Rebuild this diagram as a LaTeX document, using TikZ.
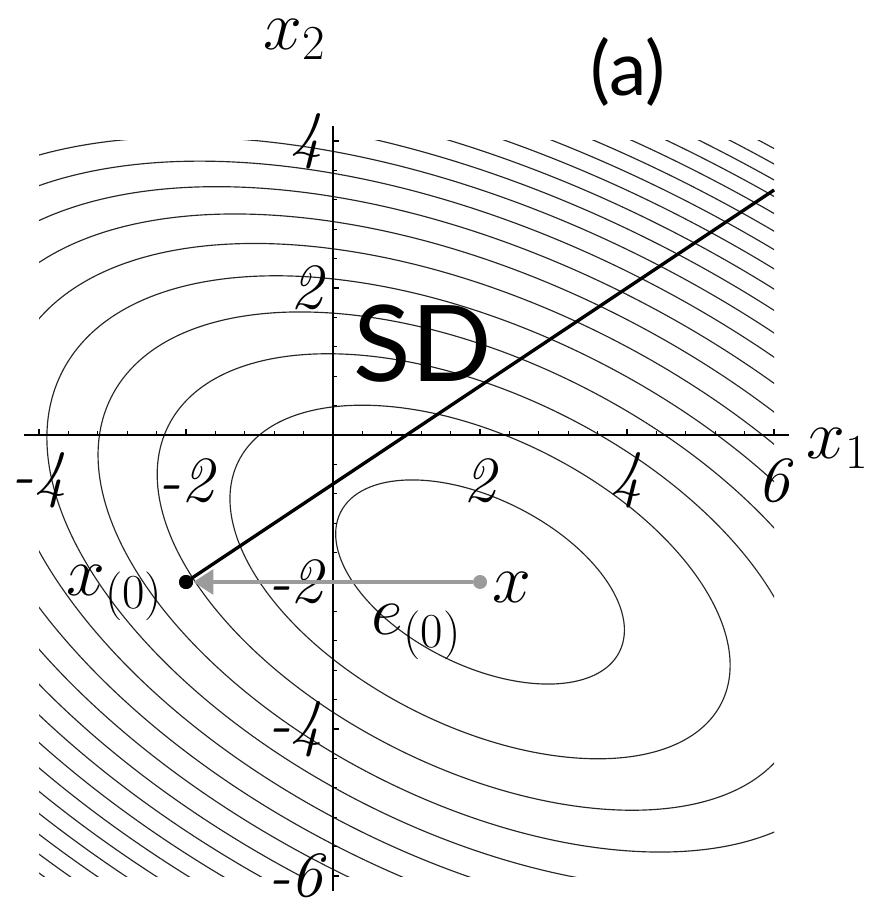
\RequirePackage{fix-cm}
\documentclass[tikz,border=0pt]{standalone}
\usepackage{fontspec}
\newfontfamily\lato{Lato}
\usetikzlibrary{arrows.meta}
\definecolor{ptgray}{RGB}{155,155,155}
\begin{document}
\begin{tikzpicture}[x=1cm,y=1cm,
  contour/.style={line width=0.45pt, black!85},
  axisline/.style={line width=0.6pt},
  tickmark/.style={line width=0.5pt},
  ticklab/.style={font=\fontsize{25}{28}\selectfont\itshape, inner sep=0pt},
  axlab/.style={font=\fontsize{27}{30}\selectfont, inner sep=0pt},
  ptlab/.style={font=\fontsize{27}{30}\selectfont, inner sep=0pt},
  dotnode/.style={circle, inner sep=0pt, minimum size=0.19cm}]
\useasboundingbox (-4.531,-6.340) rectangle (7.415,5.918);
% contours of f(x) = 1/2 x^T A x - b^T x, A=[[3,2],[2,6]], b=[2,-8]
\begin{scope}
  \clip (-4,-6) rectangle (6,4);
  \foreach \k in {0,...,19}{
    \pgfmathsetmacro\ra{sqrt(4.5+9*\k)}
    \pgfmathsetmacro\rb{sqrt(2*(4.5+9*\k)/7)}
    \draw[contour, rotate around={-26.565:(2,-2)}] (2,-2) ellipse [x radius=\ra, y radius=\rb];
  }
\end{scope}
% axes
\coordinate (xl) at (-4.2,0);
\coordinate (xr) at (6.2,0);
\coordinate (yb) at (0,-6.2);
\coordinate (yt) at (0,4.2);
\draw[axisline] (xl) -- (xr);
\draw[axisline] (yb) -- (yt);
\foreach \i in {0,...,25}{
  \pgfmathsetmacro\t{-4+0.4*\i}
  \draw[tickmark] (\t,0) -- ++(0,0.054);
  \pgfmathsetmacro\s{-6+0.4*\i}
  \draw[tickmark] (0,\s) -- ++(0.054,0);
}
\foreach \t in {-4,-2,2,4,6}{
  \draw[tickmark] (\t,0) -- ++(0,0.082);
}
\foreach \t in {-6,-4,-2,2,4}{
  \draw[tickmark] (0,\t) -- ++(0.082,0);
}
% tick labels
\foreach \t in {-4,-2,2,4,6}{
  \node[ticklab] (tx\t) at (\t,-0.62) {\t};
}
\foreach \t in {-6,-4,-2,2,4}{
  \node[ticklab, anchor=east] (ty\t) at (-0.13,\t) {\t};
}
% axis labels
\node[axlab] (lx2) at (-0.52,5.38) {$x_2$};
\node[axlab] (lx1) at (6.87,-0.18) {$x_1$};
% points and vectors
\node[dotnode, fill=black] (x0) at (-2,-2) {};
\node[dotnode, fill=ptgray] (xs) at (2,-2) {};
\coordinate (sdend) at (6,10/3);
\draw[line width=1.3pt] (x0.center) -- (sdend);
\draw[line width=1.2pt, ptgray, -{Triangle[length=7.7pt,width=9.7pt]}] (xs) -- (x0);
\node[dotnode, fill=black] at (x0) {};
% labels
\node[ptlab] (lx0) at (-2.97,-2.15) {$x_{(0)}$};
\node[ptlab] (lx) at (2.44,-2.08) {$x$};
\node[ptlab] (le0) at (1.14,-2.68) {$e_{(0)}$};
\node[font=\lato\fontsize{41}{44}\selectfont, inner sep=0pt] (sd) at (1.22,1.25) {SD};
\node[font=\lato\fontsize{29}{32}\selectfont, inner sep=0pt] (lab) at (4.01,4.94) {(a)};
\end{tikzpicture}
\end{document}
